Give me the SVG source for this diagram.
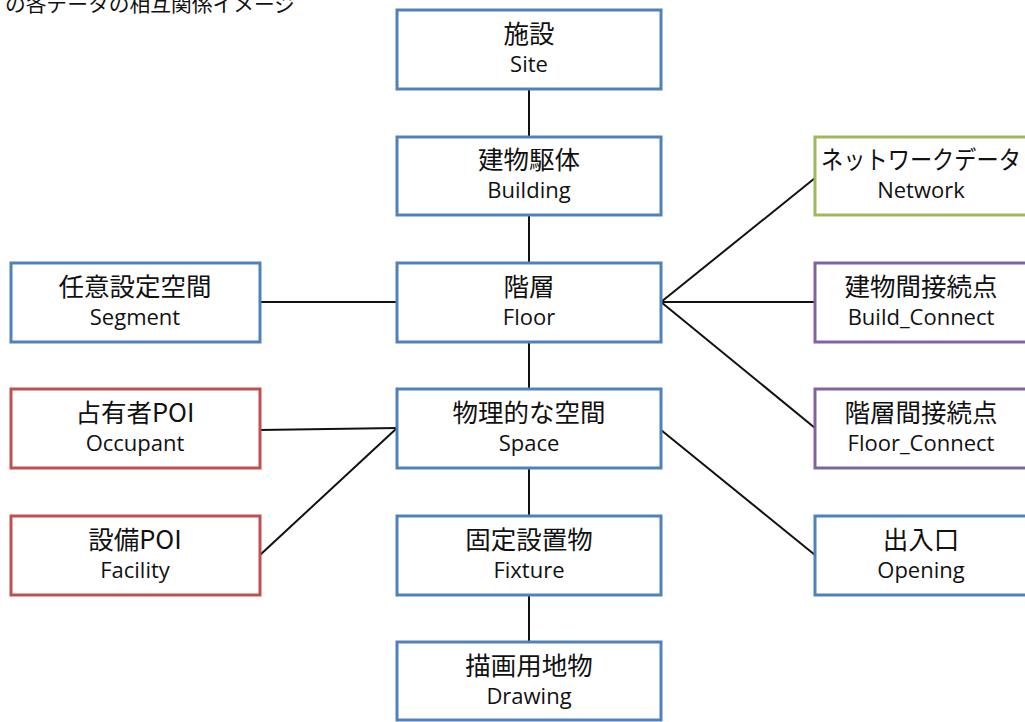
<svg xmlns="http://www.w3.org/2000/svg" width="1025" height="722" viewBox="0 0 1025 722">
<style>
.box{fill:#fff;stroke-width:3}
.b{stroke:#4F81BD}.r{stroke:#C0504D}.g{stroke:#9BBB59}.p{stroke:#8064A2}
.t1{font-family:"Noto Sans CJK JP","Noto Sans",sans-serif;font-size:25.5px;fill:#111;text-anchor:middle}
.t2{font-family:"Open Sans","Noto Sans",sans-serif;font-size:22px;fill:#111;text-anchor:middle}
.cap{font-family:"Noto Sans CJK JP",sans-serif;font-size:20.5px;fill:#111}
#connectors line{stroke:#111;stroke-width:2}
</style>
<rect width="1025" height="722" fill="#fff"/>
<text class="cap" x="5" y="12" textLength="290" lengthAdjust="spacingAndGlyphs">の各データの相互関係イメージ</text>
<g id="connectors">
<line x1="529" y1="89" x2="529" y2="137"/>
<line x1="529" y1="215" x2="529" y2="263"/>
<line x1="529" y1="342" x2="529" y2="389"/>
<line x1="529" y1="468" x2="529" y2="516"/>
<line x1="529" y1="595" x2="529" y2="642"/>
<line x1="260" y1="302" x2="397" y2="302"/>
<line x1="661" y1="302" x2="815" y2="178"/>
<line x1="661" y1="302" x2="815" y2="302"/>
<line x1="661" y1="302" x2="815" y2="428"/>
<line x1="397" y1="428" x2="260" y2="430"/>
<line x1="397" y1="428" x2="260" y2="555"/>
<line x1="661" y1="430" x2="815" y2="555"/>
</g>
<g id="site"><rect class="box b" x="397" y="10" width="264" height="79"/><text class="t1" x="529" y="43">施設</text><text class="t2" x="529" y="72">Site</text></g>
<g id="building"><rect class="box b" x="397" y="137" width="264" height="78"/><text class="t1" x="529" y="169">建物駆体</text><text class="t2" x="529" y="198">Building</text></g>
<g id="floor"><rect class="box b" x="397" y="263" width="264" height="79"/><text class="t1" x="529" y="296">階層</text><text class="t2" x="529" y="325">Floor</text></g>
<g id="space"><rect class="box b" x="397" y="389" width="264" height="79"/><text class="t1" x="529" y="422">物理的な空間</text><text class="t2" x="529" y="451">Space</text></g>
<g id="fixture"><rect class="box b" x="397" y="516" width="264" height="79"/><text class="t1" x="529" y="549">固定設置物</text><text class="t2" x="529" y="578">Fixture</text></g>
<g id="drawing"><rect class="box b" x="397" y="642" width="264" height="78"/><text class="t1" x="529" y="675">描画用地物</text><text class="t2" x="529" y="704">Drawing</text></g>
<g id="segment"><rect class="box b" x="11" y="263" width="249" height="79"/><text class="t1" x="135" y="296">任意設定空間</text><text class="t2" x="135" y="325">Segment</text></g>
<g id="occupant"><rect class="box r" x="11" y="389" width="249" height="79"/><text class="t1" x="135" y="422">占有者POI</text><text class="t2" x="135" y="451">Occupant</text></g>
<g id="facility"><rect class="box r" x="11" y="516" width="249" height="79"/><text class="t1" x="135" y="549">設備POI</text><text class="t2" x="135" y="578">Facility</text></g>
<g id="network"><rect class="box g" x="815" y="137" width="220" height="78"/><text class="t1" x="921" y="169" textLength="200" lengthAdjust="spacingAndGlyphs">ネットワークデータ</text><text class="t2" x="921" y="198">Network</text></g>
<g id="build_connect"><rect class="box p" x="815" y="263" width="220" height="79"/><text class="t1" x="921" y="296">建物間接続点</text><text class="t2" x="921" y="325">Build_Connect</text></g>
<g id="floor_connect"><rect class="box p" x="815" y="389" width="220" height="79"/><text class="t1" x="921" y="422">階層間接続点</text><text class="t2" x="921" y="451">Floor_Connect</text></g>
<g id="opening"><rect class="box b" x="815" y="516" width="220" height="79"/><text class="t1" x="921" y="549">出入口</text><text class="t2" x="921" y="578">Opening</text></g>
</svg>
